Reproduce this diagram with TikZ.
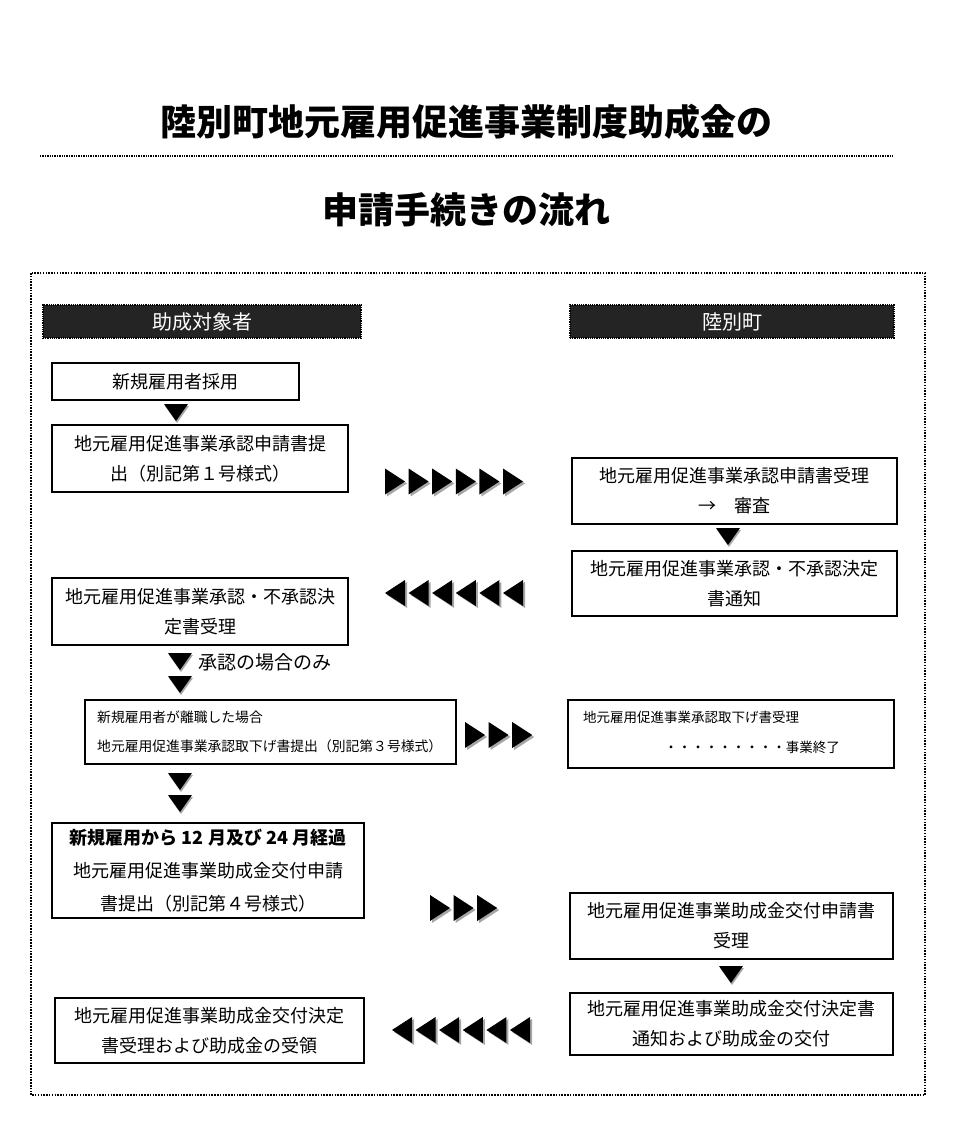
\documentclass[tikz,border=0pt]{standalone}
\usepackage{fontspec}
\setmainfont{Noto Sans CJK JP}
\newcommand\mydtri[2]{%
  \fill[black!35] (#1-11,#2+2) -- (#1+13,#2+2) -- (#1+1,#2+19) -- cycle;
  \fill (#1-12,#2) -- (#1+12,#2) -- (#1,#2+17) -- cycle;}
\newcommand\myrtri[2]{%
  \fill[black!35] (#1+2,#2-11) -- (#1+22,#2+2) -- (#1+2,#2+15) -- cycle;
  \fill (#1,#2-13) -- (#1+20,#2) -- (#1,#2+13) -- cycle;}
\newcommand\myltri[2]{%
  \fill[black!35] (#1+22,#2-11) -- (#1+2,#2+2) -- (#1+22,#2+15) -- cycle;
  \fill (#1+20,#2-13) -- (#1,#2) -- (#1+20,#2+13) -- cycle;}
\begin{document}
\begin{tikzpicture}[x=1pt,y=-1pt,
  box/.style={draw, line width=1.4pt, align=center, inner sep=0pt,
    font=\fontsize{18}{30}\selectfont},
  head/.style={fill=black!86, draw=black, line width=1.8pt,
    dash pattern=on 1.2pt off 1pt, text=white, inner sep=0pt,
    minimum height=33pt, font=\fontsize{20}{24}\selectfont},
  small/.style={font=\fontsize{13.8}{16}\selectfont, inner sep=0pt},
  frame/.style={line width=2.6pt, dash pattern=on 1.5pt off 1.3pt}]
\useasboundingbox (0,0) rectangle (960,1145);
% titles
\node (t1) at (466,122) {\fontsize{36}{40}\selectfont\bfseries 陸別町地元雇用促進事業制度助成金の};
\draw[line width=2.2pt, dash pattern=on 1.3pt off 1.1pt] (40,156) coordinate (l1) -- (893,156) coordinate (l2);
\node (t2) at (466,210) {\fontsize{36}{40}\selectfont\bfseries 申請手続きの流れ};
% frame
\draw[frame] (31,273) rectangle (925,1095);
% headers
\node[head, minimum width=318pt] (hl) at (202,321.5) {助成対象者};
\node[head, minimum width=324pt] (hr) at (732,321.5) {陸別町};
% left column
\node[box, minimum width=247pt, minimum height=37pt] (b1) at (175.5,381.5) {新規雇用者採用};
\mydtri{176}{404}
\node[box, minimum width=296pt, minimum height=67pt] (b2) at (200,458.5) {地元雇用促進事業承認申請書提\\出（別記第１号様式）};
\node[box, minimum width=296pt, minimum height=67pt] (b3) at (200,611.5) {地元雇用促進事業承認・不承認決\\定書受理};
\mydtri{180}{653}
\node[anchor=west, inner sep=0pt, font=\fontsize{19}{22}\selectfont] (lab) at (198,662) {承認の場合のみ};
\mydtri{180}{676}
\node[box, minimum width=371pt, minimum height=64pt] (b4) at (270.5,732) {};
\node[small, anchor=west] (b4a) at (97,717) {新規雇用者が離職した場合};
\node[small, anchor=west] (b4b) at (97,746) {地元雇用促進事業承認取下げ書提出（別記第３号様式）};
\mydtri{180}{773}
\mydtri{180}{795}
\node[box, minimum width=312pt, minimum height=95pt, font=\fontsize{18}{33}\selectfont] (b5) at (208,870.5) {{\bfseries 新規雇用から 12 月及び 24 月経過}\\地元雇用促進事業助成金交付申請\\書提出（別記第４号様式）};
\node[box, minimum width=309pt, minimum height=65pt] (b6) at (209.5,1030.5) {地元雇用促進事業助成金交付決定\\書受理および助成金の受領};
% right column
\node[box, minimum width=325pt, minimum height=66pt] (ra) at (734.5,491) {地元雇用促進事業承認申請書受理\\→　審査};
\mydtri{728}{528}
\node[box, minimum width=325pt, minimum height=65pt] (rb) at (734.5,583.5) {地元雇用促進事業承認・不承認決定\\書通知};
\node[box, minimum width=326pt, minimum height=68pt] (rc) at (731,734) {};
\node[small, anchor=west, font=\fontsize{13.5}{16}\selectfont] (rca) at (583,717) {地元雇用促進事業承認取下げ書受理};
\node[small, anchor=east, font=\fontsize{13.5}{16}\selectfont] (rcb) at (840,747) {・・・・・・・・・事業終了};
\node[box, minimum width=323pt, minimum height=66pt] (rd) at (731.5,926) {地元雇用促進事業助成金交付申請書\\受理};
\mydtri{731}{966}
\node[box, minimum width=323pt, minimum height=62pt] (re) at (731.5,1024) {地元雇用促進事業助成金交付決定書\\通知および助成金の交付};
% horizontal chevrons
\foreach \i in {0,...,5} {\myrtri{385+23.6*\i}{481.5}}
\foreach \i in {0,...,5} {\myltri{385+23.6*\i}{593}}
\foreach \i in {0,...,2} {\myrtri{465+23.6*\i}{735}}
\foreach \i in {0,...,2} {\myrtri{430+23.6*\i}{908}}
\foreach \i in {0,...,5} {\myltri{392+23.6*\i}{1030}}
\end{tikzpicture}
\end{document}
